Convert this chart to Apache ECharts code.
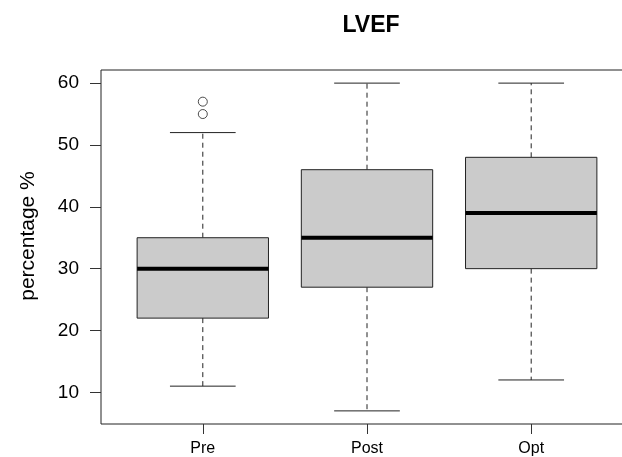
<!DOCTYPE html>
<html>
<head>
<meta charset="utf-8">
<script src="https://cdn.jsdelivr.net/npm/echarts@6/dist/echarts.min.js"></script>
<style>html,body{margin:0;padding:0;background:#fff;overflow:hidden;}#c{width:634px;height:457px;}</style>
</head>
<body>
<div id="c"></div>
<script>
var categories = ['Pre', 'Post', 'Opt'];
var whiskerLow = [11, 7, 12];
var q1 = [22, 27, 30];
var medians = [30, 35, 39];
var q3 = [35, 46, 48];
var whiskerHigh = [52, 60, 60];
var outliers = [[1, 55], [1, 57]];
var yTicks = [10, 20, 30, 40, 50, 60];

var boxData = categories.map(function (c, i) {
  return [i + 1, whiskerLow[i], q1[i], medians[i], q3[i], whiskerHigh[i]];
});

var chart = echarts.init(document.getElementById('c'));
var FONT = 'Liberation Sans, Arial, Helvetica, sans-serif';

function renderBox(params, api) {
  var x = api.value(0);
  var lo = api.value(1), a = api.value(2), m = api.value(3), b = api.value(4), hi = api.value(5);
  var hw = 0.4, cw = 0.2;
  var pLo = api.coord([x, lo]), pA = api.coord([x, a]), pM = api.coord([x, m]);
  var pB = api.coord([x, b]), pHi = api.coord([x, hi]);
  var xl = api.coord([x - hw, m])[0], xr = api.coord([x + hw, m])[0];
  var cl = api.coord([x - cw, m])[0], cr = api.coord([x + cw, m])[0];
  var lineStyle = { stroke: '#222', lineWidth: 1 };
  var dashStyle = { stroke: '#222', lineWidth: 1, lineDash: [5, 4] };
  return {
    type: 'group',
    children: [
      { type: 'line', shape: { x1: pA[0], y1: pA[1], x2: pLo[0], y2: pLo[1] }, style: dashStyle },
      { type: 'line', shape: { x1: pB[0], y1: pB[1], x2: pHi[0], y2: pHi[1] }, style: dashStyle },
      { type: 'line', shape: { x1: cl, y1: pLo[1], x2: cr, y2: pLo[1] }, style: lineStyle },
      { type: 'line', shape: { x1: cl, y1: pHi[1], x2: cr, y2: pHi[1] }, style: lineStyle },
      { type: 'rect', shape: { x: xl, y: pB[1], width: xr - xl, height: pA[1] - pB[1] },
        style: { fill: '#cbcbcb', stroke: '#222', lineWidth: 1 } },
      { type: 'line', shape: { x1: xl, y1: pM[1], x2: xr, y2: pM[1] },
        style: { stroke: '#000', lineWidth: 4 } }
    ]
  };
}

chart.setOption({
  animation: false,
  backgroundColor: '#fff',
  title: {
    text: 'LVEF', left: 366, top: 9, textAlign: 'center',
    textStyle: { fontFamily: FONT, fontSize: 23, fontWeight: 'bold', color: '#000' }
  },
  graphic: [{
    type: 'text', x: 28, y: 236, rotation: Math.PI / 2,
    style: { text: 'percentage %', fontFamily: FONT, fontSize: 21, fill: '#000', align: 'center', verticalAlign: 'middle' }
  }],
  grid: { left: 101, right: 1, top: 70, bottom: 32, show: true, borderColor: '#222', borderWidth: 1, backgroundColor: 'transparent' },
  xAxis: {
    type: 'value', min: 0.38, max: 3.62,
    splitLine: { show: false },
    axisLine: { show: false },
    axisTick: { show: true, length: 10, customValues: [1, 2, 3], lineStyle: { color: '#333' } },
    axisLabel: {
      customValues: [1, 2, 3], margin: 17,
      fontFamily: FONT, fontSize: 16, color: '#000',
      formatter: function (v) { return categories[Math.round(v) - 1] || ''; }
    }
  },
  yAxis: {
    type: 'value', min: 4.88, max: 62.12,
    splitLine: { show: false },
    axisLine: { show: false },
    axisTick: { show: true, length: 11, customValues: yTicks, lineStyle: { color: '#333' } },
    axisLabel: { customValues: yTicks, margin: 22, fontFamily: FONT, fontSize: 19, color: '#000' }
  },
  series: [
    { type: 'custom', renderItem: renderBox, data: boxData, encode: { x: 0, y: [1, 2, 3, 4, 5] }, clip: false },
    { type: 'scatter', data: outliers, symbol: 'circle', symbolSize: 9,
      itemStyle: { color: '#fff', borderColor: '#222', borderWidth: 1 } }
  ]
});
</script>
</body>
</html>
